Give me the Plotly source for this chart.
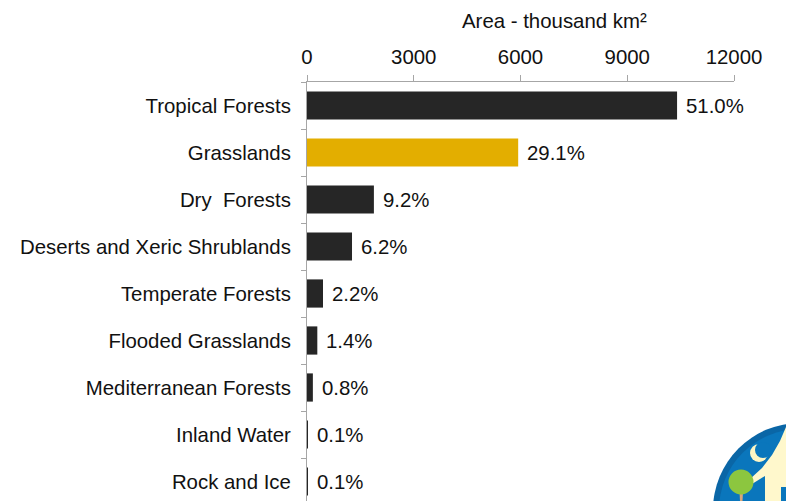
import plotly.graph_objects as go

categories = ["Tropical Forests", "Grasslands", "Dry  Forests", "Deserts and Xeric Shrublands",
              "Temperate Forests", "Flooded Grasslands", "Mediterranean Forests",
              "Inland Water", "Rock and Ice"]
area = [10400, 5935, 1880, 1265, 450, 290, 165, 25, 20]
share_labels = ["51.0%", "29.1%", "9.2%", "6.2%", "2.2%", "1.4%", "0.8%", "0.1%", "0.1%"]
x_ticks = [0, 3000, 6000, 9000, 12000]

W, H = 786, 501
PL, PR, PT, PB = 307, 734, 82, 501  # plot area in window pixels
L, R, T, B = PL, W - PR, PT, H - PB
PW, PH = PR - PL, PB - PT

def px(x):
    return (x - PL) / PW

def py(y):
    return (PB - y) / PH

bar_colors = ["#E3AE00" if c == "Grasslands" else "#262626" for c in categories]

fig = go.Figure()
fig.add_trace(go.Bar(
    x=area, y=categories, orientation="h",
    marker=dict(color=bar_colors, line=dict(width=0)),
    hoverinfo="skip",
))

font = "Liberation Sans, Arial, sans-serif"
txt = "#111111"
FS = 20.4

annotations = []
for c, v, lab in zip(categories, area, share_labels):
    annotations.append(dict(x=v, y=c, xref="x", yref="y", text=lab, showarrow=False,
                            xanchor="left", yanchor="middle", xshift=7,
                            font=dict(family=font, size=FS, color=txt)))
annotations.append(dict(x=px(554), y=py(21), xref="paper", yref="paper",
                        text="Area - thousand km²", showarrow=False,
                        xanchor="center", yanchor="middle",
                        font=dict(family=font, size=FS, color=txt)))

# decorative logo in the lower-right corner
def circ(cx, cy, r, color):
    return dict(type="circle", xref="paper", yref="paper",
                x0=px(cx - r), x1=px(cx + r), y0=py(cy + r), y1=py(cy - r),
                fillcolor=color, line=dict(width=0), layer="above")

def path(points, color):
    d = "M " + " L ".join(f"{px(a):.4f},{py(b):.4f}" for a, b in points) + " Z"
    return dict(type="path", xref="paper", yref="paper", path=d,
                fillcolor=color, line=dict(width=0), layer="above")

shapes = [
    circ(800, 510, 87, "#0A66A6"),
    circ(800, 510, 81, "#0A76BC"),
    circ(759, 453, 9, "#FFF6C4"),
    circ(763, 450, 8, "#0A76BC"),
    path([(750, 479), (762, 468), (772, 455), (780, 441), (786, 427), (786, 501),
          (765, 501), (765, 476), (752, 484)], "#FFF8CC"),
    path([(781, 487), (786, 487), (786, 501), (781, 501)], "#0A76BC"),
    path([(739.5, 492), (743, 492), (742.5, 501), (740, 501)], "#D9A67A"),
    circ(741, 482, 12.5, "#8CC63F"),
]

fig.update_layout(
    width=W, height=H,
    margin=dict(l=L, r=R, t=T, b=B, pad=0),
    paper_bgcolor="white", plot_bgcolor="white",
    showlegend=False,
    bargap=0.4,
    annotations=annotations,
    shapes=shapes,
    xaxis=dict(side="top", range=[0, 12000], tickvals=x_ticks,
               ticktext=[str(t) for t in x_ticks],
               showgrid=False, zeroline=False, showline=True,
               linecolor="#A6A6A6", linewidth=1,
               ticks="outside", ticklen=6, tickcolor="#A6A6A6",
               tickfont=dict(family=font, size=FS, color=txt),
               ticklabelstandoff=3, fixedrange=True),
    yaxis=dict(type="category", categoryorder="array", categoryarray=categories,
               range=[8.415, -0.5], showgrid=False, zeroline=False,
               showline=True, linecolor="#A6A6A6", linewidth=1,
               ticks="outside", ticklen=5, tickcolor="#A6A6A6",
               tickson="boundaries",
               tickfont=dict(family=font, size=FS, color=txt),
               ticklabelstandoff=11, fixedrange=True),
)

fig.write_html("out.html",
               config={"displayModeBar": False},
               post_script="document.body.style.margin='0';document.body.style.overflow='hidden';")
